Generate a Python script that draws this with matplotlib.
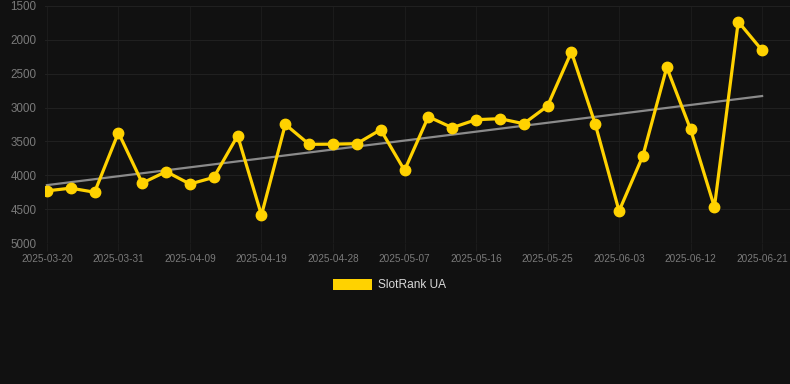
import matplotlib
matplotlib.use("Agg")
import matplotlib.pyplot as plt
import numpy as np
from matplotlib.patches import Rectangle

tick_labels = ["2025-03-20", "2025-03-31", "2025-04-09", "2025-04-19", "2025-04-28",
               "2025-05-07", "2025-05-16", "2025-05-25", "2025-06-03", "2025-06-12",
               "2025-06-21"]
ranks = [4230, 4190, 4250, 3370, 4115, 3945, 4129, 4031, 3416, 4587,
         3248, 3543, 3540, 3533, 3327, 3927, 3135, 3297, 3179, 3164,
         3238, 2977, 2179, 3243, 4528, 3711, 2406, 3322, 4469, 1731, 2155]
series_name = "SlotRank UA"

bg = "#111111"
W, H = 790, 384
fig = plt.figure(figsize=(W/100, H/100), dpi=100, facecolor=bg)
ax = fig.add_axes([45/W, (H-243)/H, (790-45)/W, (243-6)/H], facecolor=bg)

x = np.arange(len(ranks))
coef = np.polyfit(x, ranks, 1)
ax.plot(x, np.polyval(coef, x), color="#8a8a8a", lw=1.6, zorder=2)
ax.plot(x, ranks, color="#FFD200", lw=2.3, marker="o", markersize=7.5,
        markerfacecolor="#FFD200", markeredgecolor="#FFD200", zorder=3)

ax.set_ylim(5000, 1500)
ax.set_yticks(range(1500, 5001, 500))
ax.set_xlim(-0.08, 31.17)
ax.set_xticks(x[::3])
ax.set_xticklabels(tick_labels)

for s in ax.spines.values():
    s.set_visible(False)
ax.grid(True, axis="y", color="#202020", lw=0.8)
ax.grid(True, axis="x", color="#1b1b1b", lw=0.8)
ax.axhline(5000, color="#2a2a2a", lw=0.8, zorder=1)
ax.set_axisbelow(True)
ax.tick_params(axis="y", length=0, pad=6, labelsize=8.4, labelcolor="#7a7a7a")
ax.tick_params(axis="x", length=6, color="#1b1b1b", pad=2, labelsize=7.2, labelcolor="#7a7a7a")
for lab in ax.get_xticklabels() + ax.get_yticklabels():
    lab.set_family("Liberation Sans")

fig.patches.append(Rectangle((333/W, (H-290)/H), 39/W, 11/H, transform=fig.transFigure,
                             facecolor="#FFD200", edgecolor="none"))
fig.text(378/W, (H-285)/H, series_name, color="#d8d8d8", fontsize=8.6,
         family="Liberation Sans", va="center", ha="left")

fig.savefig("out.png", dpi=100, facecolor=bg)
